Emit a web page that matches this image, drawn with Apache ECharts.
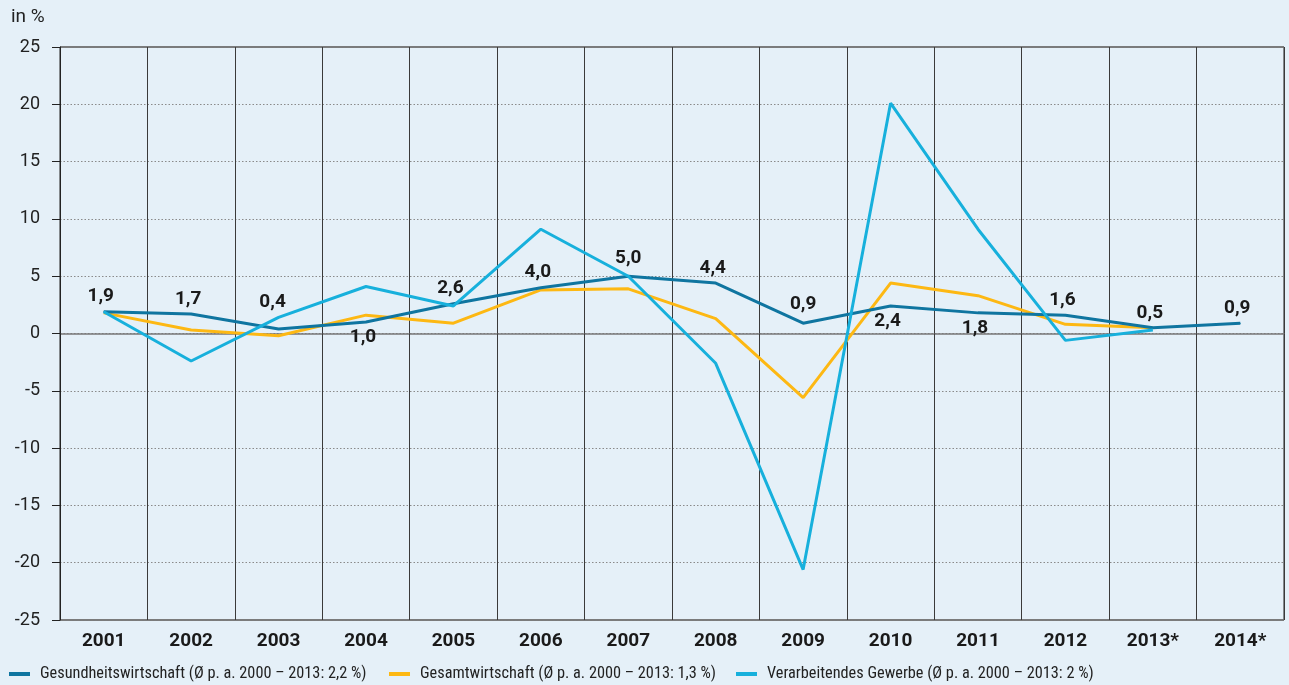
<!DOCTYPE html>
<html>
<head>
<meta charset="utf-8">
<script src="https://cdn.jsdelivr.net/npm/echarts@6/dist/echarts.min.js"></script>
<style>
html,body{margin:0;padding:0;background:#e5f0f8;}
#c{width:1289px;height:685px;}
</style>
</head>
<body>
<div id="c"></div>
<script>
const categories = ['2001','2002','2003','2004','2005','2006','2007','2008','2009','2010','2011','2012','2013*','2014*'];
const gesundheit = [1.9,1.7,0.4,1.0,2.6,4.0,5.0,4.4,0.9,2.4,1.8,1.6,0.5,0.9];
const gesamt = [1.8,0.3,-0.2,1.6,0.9,3.8,3.9,1.3,-5.6,4.4,3.3,0.8,0.5,null];
const verarb = [1.9,-2.4,1.4,4.1,2.4,9.1,5.0,-2.6,-20.6,20.1,9.1,-0.6,0.3,null];
const yTicks = [-25,-20,-15,-10,-5,0,5,10,15,20,25];
const seriesNames = [
  'Gesundheitswirtschaft (Ø p. a. 2000 – 2013: 2,2 %)',
  'Gesamtwirtschaft (Ø p. a. 2000 – 2013: 1,3 %)',
  'Verarbeitendes Gewerbe (Ø p. a. 2000 – 2013: 2 %)'
];

const FONT = 'Roboto, "Open Sans", sans-serif';
const NARROW = '"Roboto Condensed", "Liberation Sans Narrow", "DejaVu Sans Condensed", sans-serif';
const cBlue = '#0f75a0', cYellow = '#fdb813', cCyan = '#17b0dc';
const below = new Set([3, 9, 10]);
const labelOffsets = {2: [-6, -12], 6: [0, -3], 8: [0, -4]};
const fmt = v => v.toFixed(1).replace('.', ',');

const chart = echarts.init(document.getElementById('c'), null, {renderer: 'canvas'});
chart.setOption({
  backgroundColor: '#e5f0f8',
  animation: false,
  textStyle: {fontFamily: FONT},
  title: {text: 'in %', left: 11, top: 8, padding: 0, textStyle: {fontSize: 19, fontWeight: 'normal', color: '#222', fontFamily: FONT}},
  grid: {left: 60, right: 5, top: 47, bottom: 65, show: true, borderColor: '#222', borderWidth: 1, backgroundColor: 'transparent'},
  legend: [
    {data: [seriesNames[0]], left: 9},
    {data: [seriesNames[1]], left: 389},
    {data: [seriesNames[2]], left: 736}
  ].map(l => Object.assign(l, {top: 666, padding: 0, icon: 'rect', itemWidth: 21, itemHeight: 4,
    textStyle: {fontSize: 16.3, color: '#222', fontFamily: NARROW, padding: [0, 0, 0, 5]}})),
  xAxis: {
    type: 'category', data: categories, boundaryGap: true,
    axisLine: {show: false}, axisTick: {show: false},
    axisLabel: {fontSize: 19, fontWeight: 'bold', color: '#1a1a1a', margin: 12, fontFamily: FONT},
    splitLine: {show: true, lineStyle: {color: '#3a3a3a', width: 1}}
  },
  yAxis: [
    {
      type: 'value', min: -25, max: 25, interval: 5,
      axisLine: {show: true, lineStyle: {color: '#222'}},
      axisTick: {show: true, length: 8, lineStyle: {color: '#222'}},
      axisLabel: {fontSize: 18, color: '#222', margin: 20, fontFamily: FONT, formatter: v => yTicks.includes(v) ? String(v) : ''},
      splitLine: {show: true, lineStyle: {color: '#8a8a8a', type: [1.5, 2], width: 1}}
    },
    {
      type: 'value', min: -25, max: 25, interval: 25, position: 'left',
      axisLine: {show: false}, axisTick: {show: false}, axisLabel: {show: false},
      splitLine: {show: true, lineStyle: {color: '#777', width: 1.5}}
    }
  ],
  series: [
    {
      name: seriesNames[0], type: 'line', data: gesundheit.map((v, i) => ({
        value: v,
        label: {position: below.has(i) ? 'bottom' : 'top', offset: labelOffsets[i] || [-3, 0]}
      })),
      symbol: 'circle', symbolSize: 1, showSymbol: true, showAllSymbol: true, z: 3,
      lineStyle: {color: cBlue, width: 3}, itemStyle: {color: cBlue},
      label: {show: true, distance: 5, fontSize: 19, fontWeight: 'bold', color: '#1a1a1a', fontFamily: FONT, formatter: p => fmt(p.value)}
    },
    {
      name: seriesNames[1], type: 'line', data: gesamt, symbol: 'none', z: 2,
      lineStyle: {color: cYellow, width: 3}, itemStyle: {color: cYellow}
    },
    {
      name: seriesNames[2], type: 'line', data: verarb, symbol: 'none', z: 4,
      lineStyle: {color: cCyan, width: 3}, itemStyle: {color: cCyan}
    }
  ]
});
</script>
</body>
</html>
